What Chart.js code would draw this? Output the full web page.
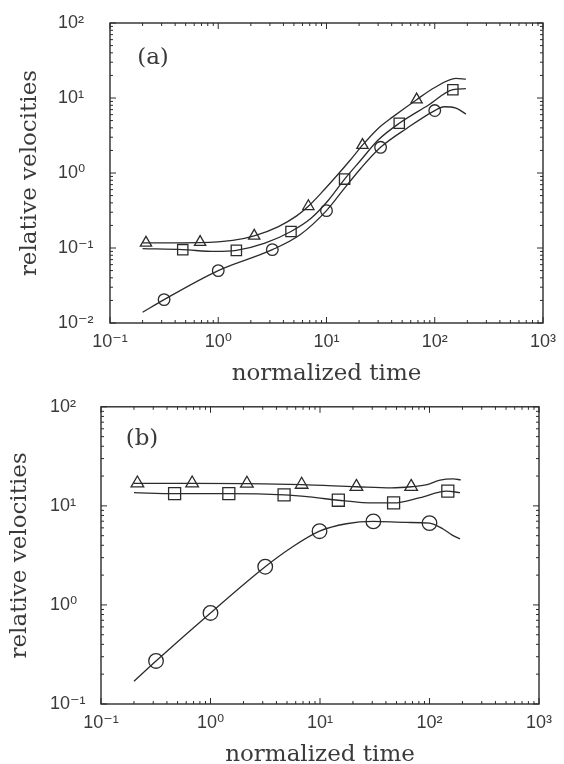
<!DOCTYPE html>
<html>
<head>
<meta charset="utf-8">
<script src="https://cdn.jsdelivr.net/npm/chart.js@4/dist/chart.umd.min.js"></script>
<style>
  html, body { margin: 0; padding: 0; background: #fff; overflow: hidden; }
  canvas { position: absolute; left: 0; }
  #panelA { top: 0; }
  #panelB { top: 388px; }
</style>
</head>
<body>
<canvas id="panelA" width="564" height="390"></canvas>
<canvas id="panelB" width="564" height="380"></canvas>
<script>
// axis decades (tick labels)
const xDecades = [0.1, 1, 10, 100, 1000]
const yDecadesA = [0.01, 0.1, 1, 10, 100]
const yDecadesB = [0.1, 1, 10, 100]

// ---- panel (a) ----
// curves
const aTriLineX = [0.2, 0.68, 1.36, 2.15, 3.6, 5.3, 6.8, 9, 12.2, 16.6, 21.5, 30, 41, 68, 100, 157, 194]
const aTriLineY = [0.117, 0.118, 0.126, 0.145, 0.193, 0.268, 0.36, 0.547, 0.89, 1.49, 2.35, 3.93, 5.6, 9.5, 13.8, 18.3, 17.8]
const aSqLineX = [0.2, 0.47, 0.93, 1.47, 2.7, 4.7, 7.2, 10.5, 14.7, 20.8, 30, 47, 87, 147, 194]
const aSqLineY = [0.098, 0.095, 0.09, 0.093, 0.116, 0.166, 0.249, 0.44, 0.83, 1.49, 2.75, 4.6, 8.0, 12.9, 13.3]
const aCircLineX = [0.2, 0.316, 1, 3.16, 5.7, 10, 14.2, 20.7, 31.6, 55, 100, 122, 157, 194]
const aCircLineY = [0.0139, 0.0205, 0.05, 0.095, 0.15, 0.315, 0.59, 1.15, 2.2, 3.93, 6.8, 7.65, 7.35, 6.1]
// markers
const aTriX = [0.215, 0.68, 2.15, 6.8, 21.5, 68]
const aTriY = [0.117, 0.12, 0.145, 0.36, 2.35, 9.5]
const aSqX = [0.47, 1.47, 4.7, 14.7, 47, 147]
const aSqY = [0.095, 0.093, 0.166, 0.83, 4.6, 12.9]
const aCircX = [0.316, 1, 3.16, 10, 31.6, 100]
const aCircY = [0.0205, 0.05, 0.095, 0.315, 2.2, 6.8]

// ---- panel (b) ----
const bTriLineX = [0.2, 0.68, 2.15, 6.8, 21.5, 45, 68, 95, 125, 164, 193]
const bTriLineY = [16.9, 16.9, 16.8, 16.4, 15.6, 15.2, 15.6, 16.4, 18.2, 18.7, 18.3]
const bSqLineX = [0.2, 0.47, 1.47, 4.7, 8, 14.7, 24.6, 46.8, 82, 143, 190]
const bSqLineY = [13.6, 13.3, 13.3, 12.9, 12.3, 11.4, 10.8, 10.7, 12.1, 14.1, 13.6]
const bCircLineX = [0.2, 0.318, 1, 3.16, 5.5, 9.9, 17.4, 30.7, 62, 100, 133, 160, 190]
const bCircLineY = [0.17, 0.272, 0.83, 2.43, 3.8, 5.55, 6.6, 6.97, 6.8, 6.7, 5.84, 5.1, 4.64]
const bTriX = [0.215, 0.68, 2.15, 6.8, 21.5, 68]
const bTriY = [16.9, 16.9, 16.8, 16.4, 15.6, 15.6]
const bSqX = [0.47, 1.47, 4.7, 14.7, 47, 147]
const bSqY = [13.3, 13.3, 12.9, 11.4, 10.7, 14.1]
const bCircX = [0.318, 1, 3.16, 9.9, 30.7, 100]
const bCircY = [0.272, 0.83, 2.43, 5.55, 6.97, 6.7]

const INK = '#2b2b2b'
const TEXT = '#3a3a3a'
const SUP = { '-': '⁻', '0': '⁰', '1': '¹', '2': '²', '3': '³' }

function tickLabel(v) {
  const e = String(Math.round(Math.log10(v)))
  return '10' + e.split('').map(c => SUP[c]).join('')
}

function pts(xs, ys) {
  return xs.map((x, i) => ({ x, y: ys[i] }))
}

function curve(xs, ys) {
  return {
    data: pts(xs, ys), showLine: true, pointRadius: 0,
    borderColor: INK, borderWidth: 1.3, cubicInterpolationMode: 'monotone'
  }
}

function markers(xs, ys, style, r) {
  return {
    data: pts(xs, ys), showLine: false, pointStyle: style, pointRadius: r,
    pointBorderWidth: 1.3, pointBorderColor: INK,
    pointBackgroundColor: 'rgba(0,0,0,0)'
  }
}

// box with inward ticks on all sides + panel label
const framePlugin = {
  id: 'frame',
  afterDraw(chart, args, opts) {
    const { ctx, chartArea: a, scales } = chart
    ctx.save()
    ctx.strokeStyle = INK
    ctx.lineWidth = 1.4
    ctx.strokeRect(a.left, a.top, a.right - a.left, a.bottom - a.top)
    ctx.lineWidth = 1
    const drawTicks = (scale, horizontal) => {
      const lo = Math.round(Math.log10(scale.min))
      const hi = Math.round(Math.log10(scale.max))
      for (let d = lo; d <= hi; d++) {
        for (let m = 1; m <= 9; m++) {
          const v = m * Math.pow(10, d)
          if (v > scale.max * 1.0001) break
          const p = scale.getPixelForValue(v)
          const len = m === 1 ? 6 : 3
          ctx.beginPath()
          if (horizontal) {
            ctx.moveTo(p, a.bottom); ctx.lineTo(p, a.bottom - len)
            ctx.moveTo(p, a.top); ctx.lineTo(p, a.top + len)
          } else {
            ctx.moveTo(a.left, p); ctx.lineTo(a.left + len, p)
            ctx.moveTo(a.right, p); ctx.lineTo(a.right - len, p)
          }
          ctx.stroke()
        }
      }
    }
    drawTicks(scales.x, true)
    drawTicks(scales.y, false)
    ctx.fillStyle = TEXT
    ctx.font = '23px "DejaVu Serif"'
    ctx.textAlign = 'center'
    ctx.textBaseline = 'middle'
    ctx.fillText(opts.label, a.left + opts.lx, a.top + opts.ly)
    ctx.restore()
  }
}

function makePanel(id, p) {
  return new Chart(document.getElementById(id), {
    type: 'scatter',
    data: { datasets: p.datasets },
    options: {
      responsive: false,
      animation: false,
      layout: { padding: p.padding },
      plugins: {
        legend: { display: false },
        tooltip: { enabled: false },
        frame: { label: p.label, lx: p.lx, ly: p.ly }
      },
      scales: {
        x: {
          type: 'logarithmic', min: 0.1, max: 1000,
          afterBuildTicks: s => { s.ticks = xDecades.map(v => ({ value: v })) },
          afterFit: s => { s.height = p.xHeight },
          grid: { display: false, drawTicks: false },
          border: { display: false },
          ticks: {
            callback: v => tickLabel(v), autoSkip: false, maxRotation: 0,
            padding: 8, color: TEXT, font: { family: '"Liberation Sans", "DejaVu Sans"', size: 18 }
          },
          title: {
            display: true, text: 'normalized time', color: TEXT,
            font: { family: '"DejaVu Serif"', size: 23 },
            padding: { top: 0, bottom: p.xTitlePad }
          }
        },
        y: {
          type: 'logarithmic', min: p.yMin, max: 100,
          afterBuildTicks: s => { s.ticks = p.yDecades.map(v => ({ value: v })) },
          afterFit: s => { s.width = p.yWidth },
          grid: { display: false, drawTicks: false },
          border: { display: false },
          ticks: {
            callback: v => tickLabel(v), autoSkip: false, crossAlign: 'far',
            padding: 8, color: TEXT, font: { family: '"Liberation Sans", "DejaVu Sans"', size: 18 }
          },
          title: {
            display: true, text: 'relative velocities', color: TEXT,
            font: { family: '"DejaVu Serif"', size: 23 },
            padding: { top: p.yTitlePad, bottom: 0 }
          }
        }
      }
    },
    plugins: [framePlugin]
  })
}

makePanel('panelA', {
  label: '(a)', lx: 43, ly: 35,
  padding: { left: 58, right: 16, top: 23, bottom: 0 },
  yWidth: 52, xHeight: 67, xTitlePad: 2, yTitlePad: -42,
  yMin: 0.01, yDecades: yDecadesA,
  datasets: [
    curve(aTriLineX, aTriLineY),
    curve(aSqLineX, aSqLineY),
    curve(aCircLineX, aCircLineY),
    markers(aTriX, aTriY, 'triangle', 6.5),
    markers(aSqX, aSqY, 'rect', 7.3),
    markers(aCircX, aCircY, 'circle', 5.8)
  ]
})

makePanel('panelB', {
  label: '(b)', lx: 41, ly: 32,
  padding: { left: 50, right: 25, top: 15, bottom: 0 },
  yWidth: 51, xHeight: 64, xTitlePad: -1, yTitlePad: -44,
  yMin: 0.1, yDecades: yDecadesB,
  datasets: [
    curve(bTriLineX, bTriLineY),
    curve(bSqLineX, bSqLineY),
    curve(bCircLineX, bCircLineY),
    markers(bTriX, bTriY, 'triangle', 7.3),
    markers(bSqX, bSqY, 'rect', 8.5),
    markers(bCircX, bCircY, 'circle', 7.3)
  ]
})
</script>
</body>
</html>
